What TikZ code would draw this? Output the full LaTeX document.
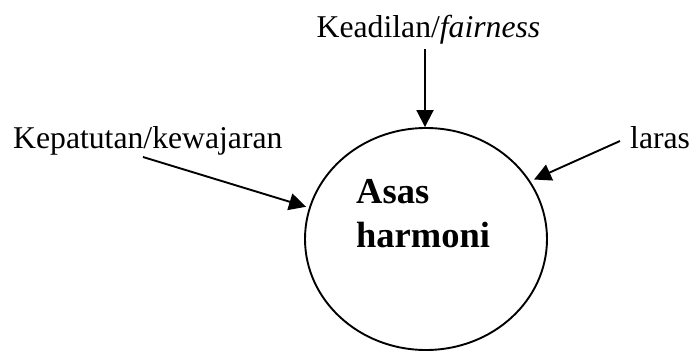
\documentclass[tikz,border=0pt]{standalone}
\usepackage{fontspec}
\setmainfont{Liberation Serif}
\usetikzlibrary{shapes.geometric,arrows.meta}
\tikzset{
  lbl/.style={inner sep=0pt, font=\fontsize{31.7}{38}\selectfont},
  boldlbl/.style={inner sep=0pt, font=\fontsize{36.5}{44}\selectfont\bfseries, align=left},
  conn/.style={line width=1.9pt, -{Triangle[length=17pt,width=17pt]}},
  ring/.style={draw, line width=1.9pt, ellipse, minimum width=242pt, minimum height=222pt, inner sep=0pt}
}
\begin{document}
\begin{tikzpicture}[x=1pt,y=-1pt]
\useasboundingbox (0,0) rectangle (691,351);
\node[ring] (ell) at (426,239) {};
\node[lbl, anchor=base] (kead) at (428.5,37) {Keadilan/\textit{fairness}};
\node[lbl, anchor=base west] (kep) at (13,148) {Kepatutan/kewajaran};
\node[lbl, anchor=base west] (laras) at (630,148) {laras};
\node[boldlbl, anchor=base west] (asas) at (356,203) {Asas};
\node[boldlbl, anchor=base west] (harm) at (356,247) {harmoni};
\coordinate (kstart) at (425,49);
\coordinate (pstart) at (143,157);
\coordinate (lstart) at (620,141);
\draw[conn] (kstart) -- (kstart |- ell.north);
\draw[conn, shorten >=3pt] (pstart) -- (ell.165);
\draw[conn, shorten >=4pt] (lstart) -- (ell.29);
\end{tikzpicture}
\end{document}
